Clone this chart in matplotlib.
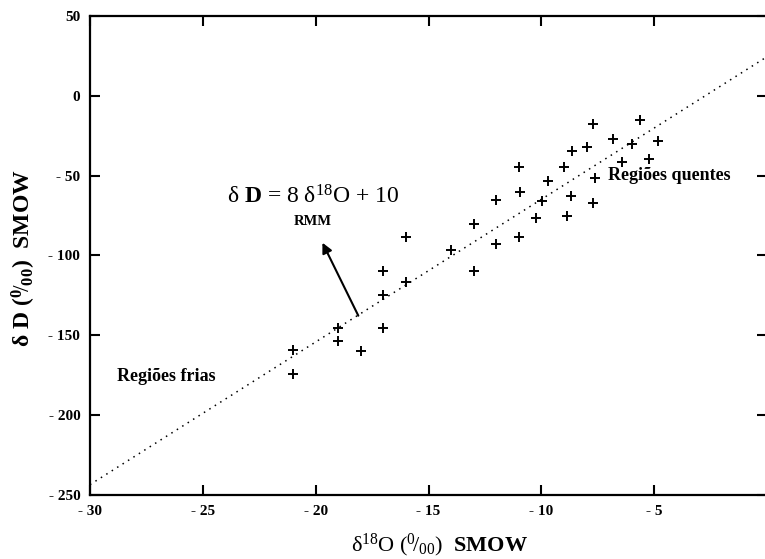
import matplotlib
matplotlib.use("Agg")
import matplotlib.pyplot as plt

plt.rcParams['font.family'] = ['Liberation Serif', 'DejaVu Serif']
plt.rcParams['mathtext.fontset'] = 'custom'
plt.rcParams['mathtext.rm'] = 'Liberation Serif'
plt.rcParams['mathtext.it'] = 'Liberation Serif:italic'
plt.rcParams['mathtext.bf'] = 'Liberation Serif:bold'

# Data (d18O, dD)
d18O = [-21.0, -21.0, -19.0, -19.0, -18.0, -17.0, -17.0, -17.0, -16.0, -16.0,
        -14.0, -13.0, -13.0, -12.0, -12.0, -11.0, -10.94, -11.0, -10.24, -9.96,
        -9.69, -9.0, -8.87, -8.68, -8.62, -7.98, -7.72, -7.62, -7.69, -6.83,
        -6.43, -5.99, -5.62, -5.23, -4.85]
dD = [-159.2, -174.4, -145.6, -153.4, -159.6, -109.7, -124.5, -145.6, -88.6, -116.4,
      -96.6, -80.3, -109.5, -65.2, -93.0, -44.8, -60.4, -88.6, -76.3, -65.9,
      -53.2, -44.8, -75.3, -62.5, -34.4, -31.9, -17.6, -51.6, -66.9, -27.2,
      -41.2, -30.4, -15.1, -39.6, -28.3]

line_x = [-30, 0]
line_y = [-243.5, 24.5]

xticks = [-30, -25, -20, -15, -10, -5]
yticks = [50, 0, -50, -100, -150, -200, -250]

def fmt(v):
    return f"- {abs(v)}" if v < 0 else f"{v}"

fig = plt.figure(figsize=(7.65, 5.59), dpi=100)
ax = fig.add_axes([90/765, 1 - 495/559, (767 - 90)/765, (495 - 16)/559])

ax.plot(line_x, line_y, color='black', linestyle=(0, (1, 3.2)), linewidth=1.1)
ax.plot(d18O, dD, linestyle='none', marker='+', color='black',
        markersize=7, markeredgewidth=1.4)

ax.set_xlim(-30, 0)
ax.set_ylim(-250, 50)
ax.set_xticks(xticks)
ax.set_xticklabels([fmt(v) for v in xticks], fontweight='bold', fontsize=11)
ax.set_yticks(yticks)
ax.set_yticklabels([fmt(v) for v in yticks], fontweight='bold', fontsize=11)
ax.tick_params(direction='in', length=7, width=1.5, top=True, right=True, pad=7)
for s in ax.spines.values():
    s.set_linewidth(1.6)
ax.spines['right'].set_visible(False)

ax.text(-28.8, -175.5, "Regiões frias", fontsize=13, fontweight='bold',
        ha='left', va='center')
ax.text(-7.03, -50.2, "Regiões quentes", fontsize=13, fontweight='bold',
        ha='left', va='center')
ax.text(-20.12, -63.4, r"δ $\mathbf{D}$ = 8 δ$^{18}$O + 10", fontsize=17,
        ha='center', va='center')
ax.text(-20.12, -79.0, "RMM", fontsize=10.5, fontweight='bold',
        ha='center', va='center')
ax.annotate("", xy=(-19.7, -92.0), xytext=(-18.11, -137.7),
            arrowprops=dict(arrowstyle='-|>', lw=1.5, color='black',
                            mutation_scale=15, shrinkA=0, shrinkB=0))

fig.text(440/765, 1 - 545/559, r"δ$^{18}$O ($^{0}\!/_{00}$)  $\mathbf{SMOW}$",
         fontsize=16, ha='center', va='center')
fig.text(24/765, 1 - 258/559, r"δ D ($^{\mathbf{0}}\!/_{\mathbf{00}}$)  SMOW",
         fontsize=17, fontweight='bold', ha='center', va='center', rotation=90)

fig.savefig("out.png", dpi=100)
